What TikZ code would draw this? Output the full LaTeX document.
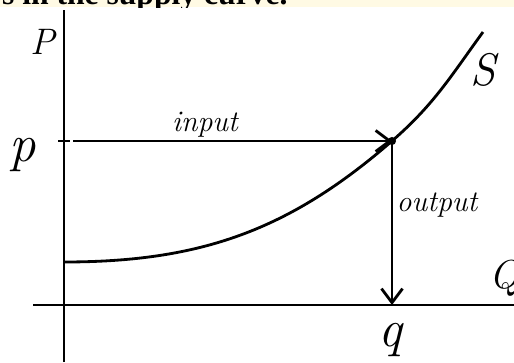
\documentclass[tikz,border=0pt]{standalone}
\usepackage{fontspec}
\usepackage{tikz}
\usetikzlibrary{positioning,arrows.meta}
\usepackage{xcolor}
\newfontfamily\headfont{Liberation Serif}
\definecolor{stripyellow}{RGB}{255,250,228}

\begin{document}
\begin{tikzpicture}[x=0.02cm,y=0.02cm,line width=1.6pt,>={Straight Barb[length=8pt,width=12pt]},
  hand/.style={font=\fontsize{17}{20}\selectfont\itshape,inner sep=0pt}]
\useasboundingbox (0,0) rectangle (514,362);
\fill[stripyellow] (0,354.7) rectangle (514,362);
\begin{scope}
\clip (0,354.7) rectangle (514,362);
\node[anchor=base east,inner sep=0pt,font=\headfont\fontsize{18}{21}\selectfont\bfseries] (head) at (289,357.3) {s in the supply curve.};
\end{scope}
\coordinate (O) at (64,57);
\coordinate (ytop) at (64,352);
\coordinate (ybot) at (64,0);
\coordinate (xl) at (33,57);
\coordinate (xr) at (514,57);
\coordinate (base) at (64,100);
\coordinate (E) at (392,221);
\coordinate (send) at (483,330);
\coordinate (tl) at (58,221);
\coordinate (tr) at (70,221);
\coordinate (in0) at (73,221);
\draw (ybot) -- (ytop);
\draw (xl) -- (xr);
\draw (tl) -- (tr);
\draw (base) to[out=0,in=221] (E) to[out=41,in=234] (send);
\draw[->] (in0) -- (E);
\draw[->] (E) -- (E |- O);
\fill (E) circle (2.3pt);
\node[hand,font=\fontsize{21}{24}\selectfont\itshape] (P) at (43,320) {P};
\node[hand,font=\fontsize{30}{34}\selectfont\itshape] (p) at (23,207) {p};
\node[hand,font=\fontsize{26}{30}\selectfont\itshape] (S) at (483,292) {S};
\node[hand,font=\fontsize{23}{26}\selectfont\itshape] (Q) at (505,84) {Q};
\node[hand,font=\fontsize{30}{34}\selectfont\itshape] (q) at (390,22) {q};
\node[hand] (inlbl) at (205,237) {input};
\node[hand] (outlbl) at (437,157) {output};
\end{tikzpicture}
\end{document}
